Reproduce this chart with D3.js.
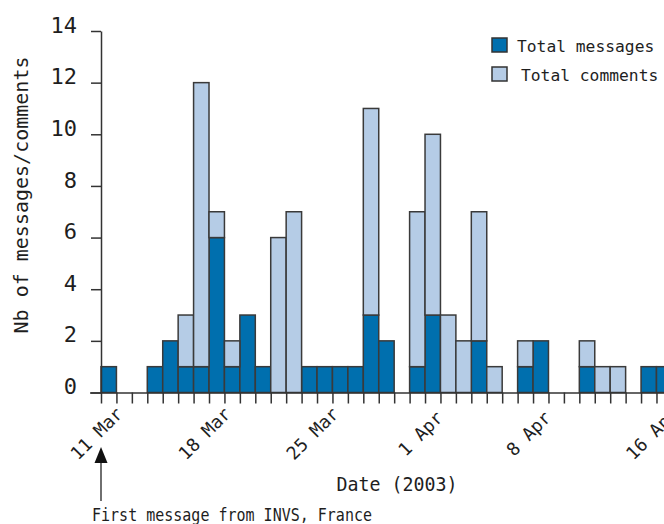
<!DOCTYPE html>
<html>
<head>
<meta charset="utf-8">
<script src="https://cdn.jsdelivr.net/npm/d3@7"></script>
<style>
  html, body { margin: 0; padding: 0; background: #fff; }
  svg { display: block; }
  text { font-family: "DejaVu Sans Mono", monospace; fill: #1e1e1e; }
</style>
</head>
<body>
<svg id="chart" width="664" height="524"></svg>
<script>
// ---- data ----
const days = ["11 Mar","12 Mar","13 Mar","14 Mar","15 Mar","16 Mar","17 Mar","18 Mar","19 Mar","20 Mar",
  "21 Mar","22 Mar","23 Mar","24 Mar","25 Mar","26 Mar","27 Mar","28 Mar","29 Mar","30 Mar","31 Mar",
  "1 Apr","2 Apr","3 Apr","4 Apr","5 Apr","6 Apr","7 Apr","8 Apr","9 Apr","10 Apr","11 Apr","12 Apr",
  "13 Apr","14 Apr","15 Apr","16 Apr"];
const messages = [1,0,0,1,2,1,1,6,1,3,1,0,0,1,1,1,1,3,2,0,1,3,0,0,2,0,0,1,2,0,0,1,0,0,0,1,1];
const comments = [0,0,0,0,0,2,11,1,1,0,0,6,7,0,0,0,0,8,0,0,6,7,3,2,5,1,0,1,0,0,0,1,1,1,0,0,0];
const tickLabels = ["11 Mar","18 Mar","25 Mar","1 Apr","8 Apr","16 Apr"];
const yTicks = [0,2,4,6,8,10,12,14];
const seriesNames = ["Total messages","Total comments"];
const colors = ["#006fae","#b5cce6"];

// ---- scales ----
const svg = d3.select("#chart");
const x = d3.scaleLinear().domain([0, days.length]).range([101, 101 + days.length * 15.43]);
const y = d3.scaleLinear().domain([0, 14]).range([392.5, 31]);

const table = days.map((d, i) => ({day: d, i, messages: messages[i], comments: comments[i]}));
const stack = d3.stack().keys(["messages","comments"])(table);

// ---- bars ----
const layers = svg.append("g").selectAll("g").data(stack).join("g")
  .attr("fill", (d, k) => colors[k]);
layers.selectAll("rect").data(d => d.filter(p => p[1] > p[0])).join("rect")
  .attr("x", p => x(p.data.i))
  .attr("width", p => x(p.data.i + 1) - x(p.data.i))
  .attr("y", p => y(p[1]))
  .attr("height", p => y(p[0]) - y(p[1]))
  .attr("stroke", "#3a3a3a")
  .attr("stroke-width", 1.5);

// ---- x axis ----
const xAxis = d3.axisBottom(x)
  .tickValues(d3.range(0, days.length + 1))
  .tickSize(11)
  .tickSizeOuter(0)
  .tickFormat("");
const gx = svg.append("g").attr("transform", `translate(0,${y(0)})`).call(xAxis);
gx.select(".domain").attr("d", `M90,0.5H664`).attr("stroke", "#333").attr("stroke-width", 1.5);
gx.selectAll(".tick line").attr("stroke", "#333").attr("stroke-width", 1.5);

svg.append("g").selectAll("text").data(tickLabels).join("text")
  .attr("transform", d => `translate(${x(days.indexOf(d))},438) rotate(-45)`)
  .attr("text-anchor", "middle")
  .attr("font-size", 18)
  .text(d => d);

// ---- y axis ----
const yAxis = d3.axisLeft(y).tickValues(yTicks).tickSize(10).tickSizeOuter(0).tickPadding(14);
const gy = svg.append("g").attr("transform", `translate(${x(0)},0)`).call(yAxis);
gy.select(".domain").attr("stroke", "#333").attr("stroke-width", 1.5);
gy.selectAll(".tick line").attr("stroke", "#333").attr("stroke-width", 1.5);
gy.selectAll(".tick text")
  .attr("font-family", "DejaVu Sans Mono, monospace")
  .attr("font-size", 22)
  .attr("fill", "#1e1e1e")
  .attr("dy", "0.05em");

// ---- axis titles ----
svg.append("text")
  .attr("transform", "translate(28,195) rotate(-90)")
  .attr("text-anchor", "middle")
  .attr("font-size", 20)
  .text("Nb of messages/comments");

svg.append("text")
  .attr("x", 397).attr("y", 491)
  .attr("text-anchor", "middle")
  .attr("font-size", 19)
  .attr("textLength", 121).attr("lengthAdjust", "spacingAndGlyphs")
  .text("Date (2003)");

// ---- annotation ----
svg.append("line")
  .attr("x1", x(0)).attr("x2", x(0)).attr("y1", 462).attr("y2", 501)
  .attr("stroke", "#222").attr("stroke-width", 1.3);
svg.append("path")
  .attr("d", `M${x(0)},447L${x(0) - 6.5},463L${x(0) + 6.5},463Z`)
  .attr("fill", "#111");
svg.append("text")
  .attr("x", 92).attr("y", 521)
  .attr("font-size", 17)
  .attr("textLength", 280).attr("lengthAdjust", "spacingAndGlyphs")
  .text("First message from INVS, France");

// ---- legend ----
const leg = svg.append("g").selectAll("g").data(seriesNames).join("g")
  .attr("transform", (d, k) => `translate(492,${38 + k * 29})`);
leg.append("rect").attr("width", 15).attr("height", 14)
  .attr("fill", (d, k) => colors[k]).attr("stroke", "#333").attr("stroke-width", 1.5);
leg.append("text")
  .attr("x", (d, k) => 25 + k * 4).attr("y", 13.5)
  .attr("font-size", 16.3)
  .text(d => d);
</script>
</body>
</html>
